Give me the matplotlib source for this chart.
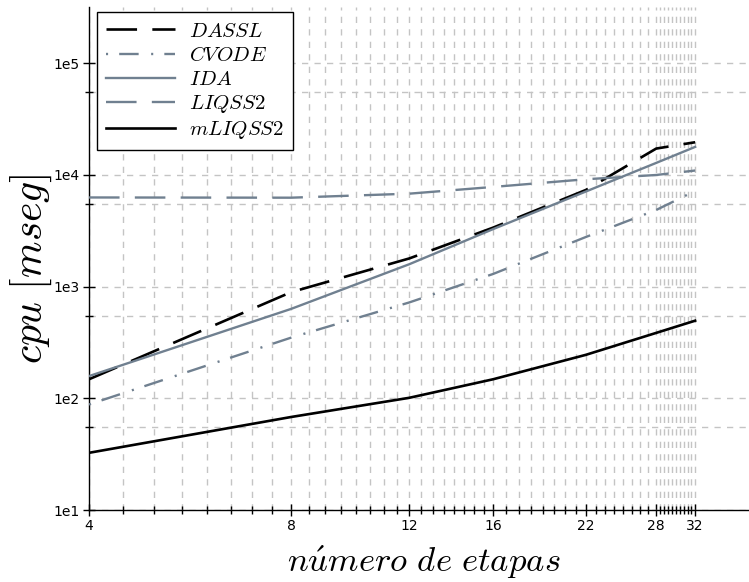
import numpy as np
import matplotlib
matplotlib.use("Agg")
import matplotlib.pyplot as plt
from matplotlib.ticker import FixedLocator, FixedFormatter, NullFormatter

plt.rcParams["mathtext.fontset"] = "cm"
plt.rcParams["font.family"] = ["DejaVu Sans"]
plt.rcParams["lines.scale_dashes"] = False

# number of stages and CPU time (ms) for each solver
etapas = [4, 8, 12, 16, 22, 28, 32]
dassl = [148, 891, 1786, 3370, 7330, 17200, 19600]
cvode = [88, 349, 721, 1297, 2780, 4850, 7180]
ida = [158, 631, 1585, 3270, 7100, 12800, 17800]
liqss2 = [6280, 6250, 6790, 7800, 9140, 9980, 10940]
mliqss2 = [32.5, 68, 101, 148, 245, 385, 495]

x_ticks = [4, 8, 12, 16, 22, 28, 32]
x_labels = ["4", "8", "12", "16", "22", "28", "32"]
y_ticks = [1e1, 1e2, 1e3, 1e4, 1e5]
y_labels = ["1e1", "1e2", "1e3", "1e4", "1e5"]

GRAY = "#708090"

fig = plt.figure(figsize=(7.49, 5.82), dpi=100)
ax = fig.add_axes([89 / 749, 72 / 582, 660 / 749, 503 / 582])

ax.plot(etapas, dassl, color="black", lw=1.9, ls=(0, (22, 11)), label=r"$DASSL$", zorder=3)
ax.plot(etapas, cvode, color=GRAY, lw=1.7, ls=(0, (1.5, 8, 14, 9)), label=r"$CVODE$", zorder=3)
ax.plot(etapas, ida, color=GRAY, lw=1.7, ls="-", label=r"$IDA$", zorder=3)
ax.plot(etapas, liqss2, color=GRAY, lw=1.7, ls=(0, (22, 11)), label=r"$LIQSS2$", zorder=3)
ax.plot(etapas, mliqss2, color="black", lw=1.9, ls="-", label=r"$mLIQSS2$", zorder=3)

ax.set_xscale("log", base=2)
ax.set_yscale("log")
ax.set_xlim(4, 38.5)
ax.set_ylim(10, 10 ** 5.503)

# minor x ticks: equal subdivisions between consecutive labelled ticks
subdiv = [8, 8, 8, 8, 8, 10]
x_minor = []
for a, b, n in zip(x_ticks[:-1], x_ticks[1:], subdiv):
    x_minor.extend(np.linspace(a, b, n + 1)[1:-1])
ax.xaxis.set_major_locator(FixedLocator(x_ticks))
ax.xaxis.set_major_formatter(FixedFormatter(x_labels))
ax.xaxis.set_minor_locator(FixedLocator(x_minor))
ax.xaxis.set_minor_formatter(NullFormatter())

y_minor = [5.5 * 10 ** k for k in range(1, 5)]
ax.yaxis.set_major_locator(FixedLocator(y_ticks))
ax.yaxis.set_major_formatter(FixedFormatter(y_labels))
ax.yaxis.set_minor_locator(FixedLocator(y_minor))
ax.yaxis.set_minor_formatter(NullFormatter())

ax.tick_params(axis="both", which="major", direction="inout", length=9, width=1.0,
               labelsize=10, pad=2)
ax.tick_params(axis="both", which="minor", direction="inout", length=6, width=1.0)

ax.grid(True, which="both", axis="both", color="#c4c4c4", lw=1.0,
        ls=(0, (4.5, 4.5)), zorder=0)
ax.set_axisbelow(True)

for side in ("top", "right"):
    ax.spines[side].set_visible(False)
for side in ("left", "bottom"):
    ax.spines[side].set_linewidth(1.0)

ax.set_xlabel(r"$n\acute{u}mero\ de\ etapas$", fontsize=25, labelpad=8)
ax.xaxis.label.set_x(0.508)
ax.set_ylabel(r"$cpu\ [mseg]$", fontsize=30, labelpad=0)
ax.yaxis.label.set_y(0.48)

leg = ax.legend(loc="upper left", bbox_to_anchor=(8 / 660, 1 - 5 / 503),
                borderaxespad=0, fontsize=15, handlelength=3.3,
                handletextpad=0.7, labelspacing=0.2, borderpad=0.42,
                fancybox=False, framealpha=1)
leg.get_frame().set_edgecolor("black")
leg.get_frame().set_linewidth(1.0)

fig.savefig("out.png", dpi=100)
